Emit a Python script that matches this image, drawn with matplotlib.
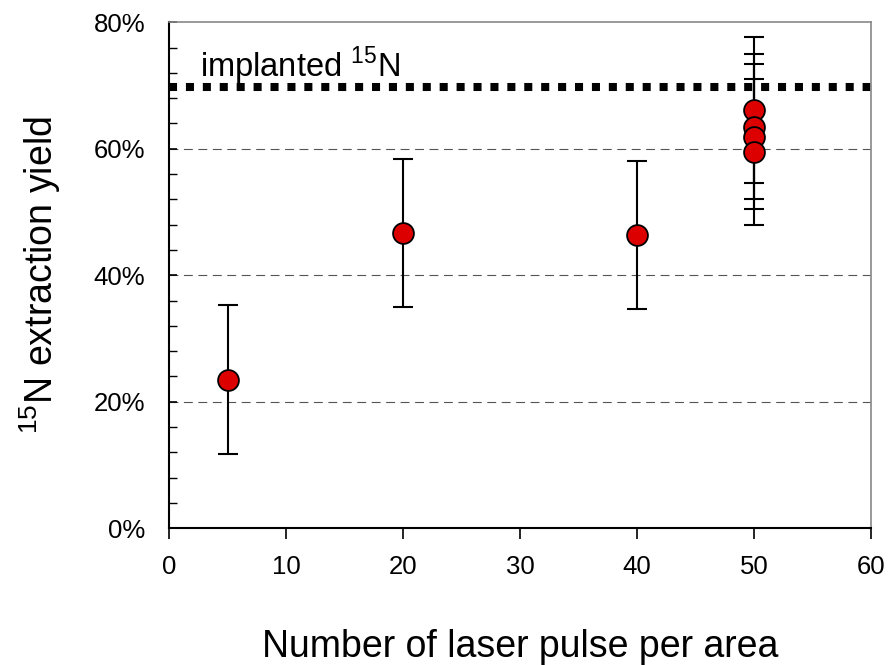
import matplotlib.pyplot as plt
from matplotlib.ticker import MultipleLocator, FuncFormatter

plt.rcParams["font.family"] = ["Liberation Sans", "DejaVu Sans"]
plt.rcParams["mathtext.fontset"] = "custom"
plt.rcParams["mathtext.rm"] = "Liberation Sans"

# laser pulses per area and 15N extraction yield (%)
pulses = [5, 20, 40, 50, 50, 50, 50]
yields = [23.5, 46.7, 46.4, 66.1, 63.5, 61.9, 59.5]
yerr = [11.8, 11.7, 11.7, 11.5, 11.5, 11.5, 11.5]
implanted = 69.7

fig = plt.figure(figsize=(8.9, 6.65), dpi=100)
ax = fig.add_axes([0.19, 0.2056, 0.7887, 0.761])

for g in (20, 40, 60):
    ax.axhline(g, color="#555555", lw=0.8, dashes=(8, 5), zorder=1)

ax.axhline(implanted, color="black", lw=5.8, dashes=(1, 1.1),
           dash_capstyle="butt", zorder=2)
ax.text(2.65, 71.3, "implanted $^{15}$N", fontsize=23.5, ha="left",
        va="baseline")

ax.errorbar(pulses, yields, yerr=yerr, fmt="none", ecolor="black",
            elinewidth=1.5, capsize=7.5, capthick=1.5, zorder=3)
ax.plot(pulses, yields, "o", ms=15, mfc="#dd0000", mec="black",
        mew=1.3, ls="none", zorder=4)

ax.set_xlim(0, 60)
ax.set_ylim(0, 80)
ax.xaxis.set_major_locator(MultipleLocator(10))
ax.yaxis.set_major_locator(MultipleLocator(20))
ax.yaxis.set_minor_locator(MultipleLocator(4))
ax.yaxis.set_major_formatter(FuncFormatter(lambda v, p: "%d%%" % v))

ax.tick_params(axis="x", direction="out", length=8, width=1.2,
               labelsize=18.5, pad=11)
ax.tick_params(axis="y", which="major", direction="in", length=6,
               width=1.2, labelsize=18.5, pad=17)
ax.tick_params(axis="y", which="minor", direction="in", length=6, width=1.0)

ax.spines["left"].set_linewidth(1.5)
ax.spines["bottom"].set_linewidth(1.5)
ax.spines["top"].set_color("#888888")
ax.spines["right"].set_color("#888888")
ax.spines["top"].set_linewidth(1.2)
ax.spines["right"].set_linewidth(1.2)

ax.set_xlabel("Number of laser pulse per area", fontsize=27, labelpad=36)
ax.set_ylabel("$^{15}$N extraction yield", fontsize=27, labelpad=22)

fig.savefig("out.png", dpi=100)
